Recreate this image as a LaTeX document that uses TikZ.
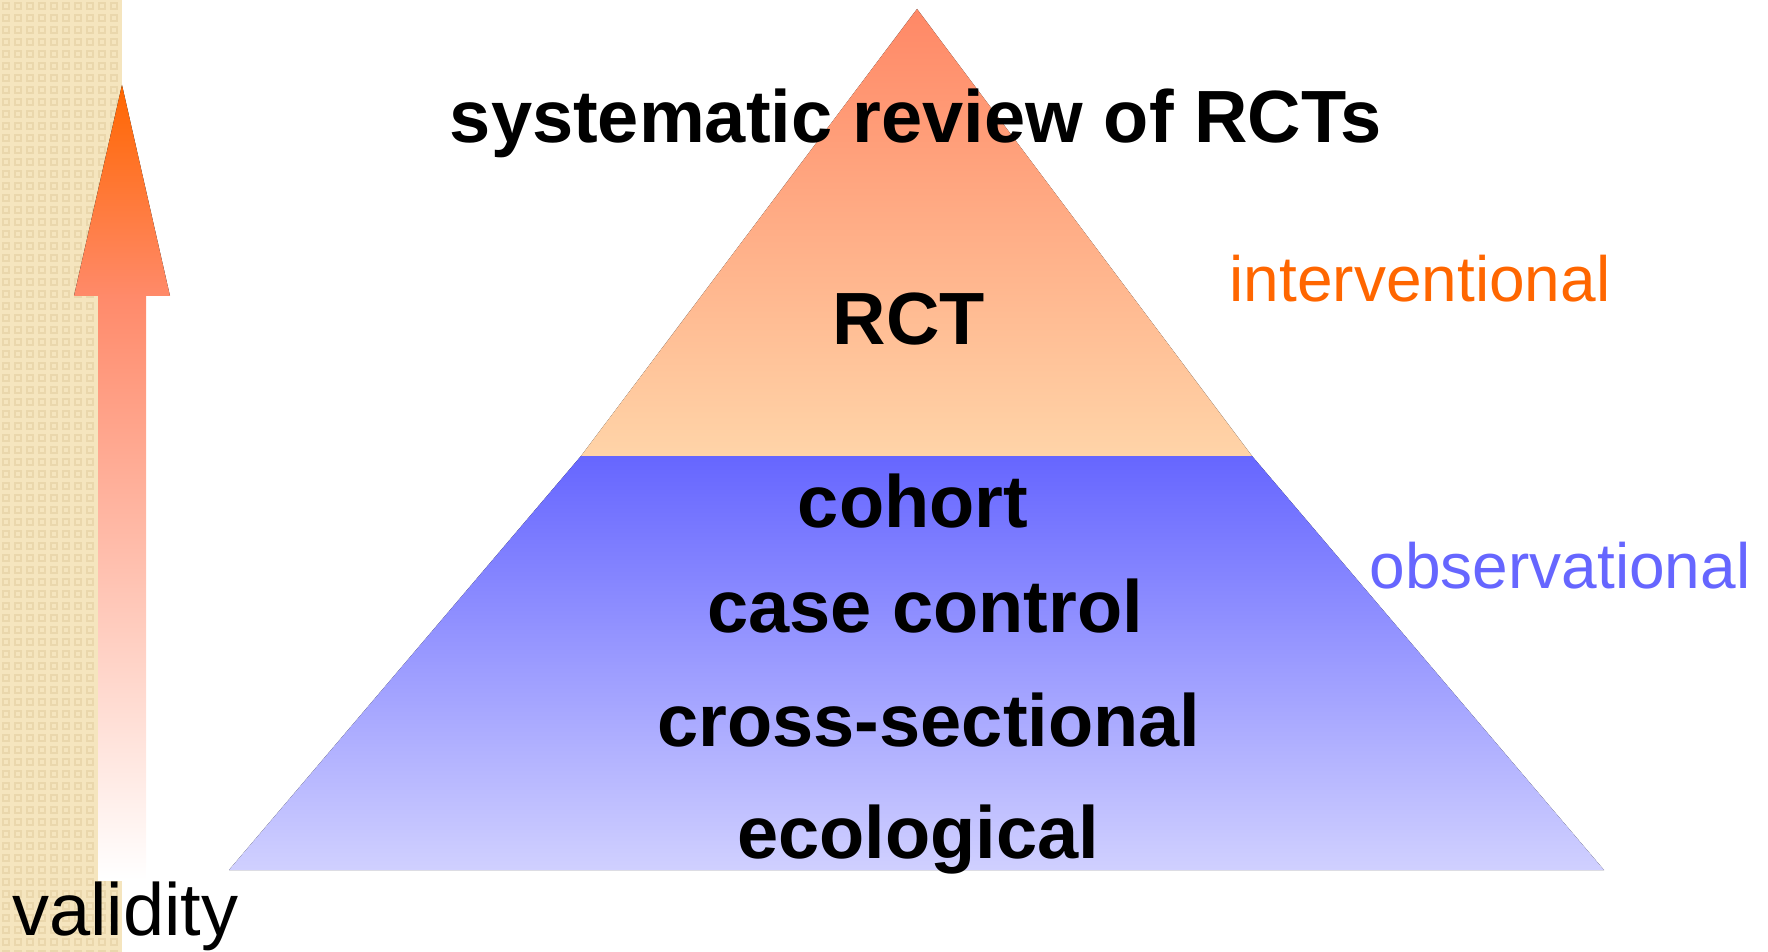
\documentclass[tikz,border=0pt]{standalone}
\usepackage{fontspec}
\setmainfont{Liberation Sans}
\usepackage{xcolor}
\usetikzlibrary{positioning}
\definecolor{stripbeige}{HTML}{F5E5BE}
\definecolor{stripdot}{HTML}{EAD7AC}
\definecolor{arroworange}{HTML}{FF6600}
\definecolor{arrowsalmon}{HTML}{FF8A6A}
\definecolor{topsalmon}{HTML}{FF8866}
\definecolor{toppeach}{HTML}{FFD4A8}
\definecolor{lowblue}{HTML}{6666FF}
\definecolor{lowlilac}{HTML}{D0D0FF}

\begin{document}
\begin{tikzpicture}[x=0.5pt, y=-0.5pt,
    level/.style={font=\fontsize{37}{44}\selectfont\bfseries, anchor=base, inner sep=0pt, text=black},
    side/.style={font=\fontsize{32}{38}\selectfont, anchor=base, inner sep=0pt}]
                        \useasboundingbox (0,0) rectangle (1768,952);
                        % textured strip on the left
                        \fill[stripbeige] (0,0) rectangle (122,952);
                        \foreach \i in {0,...,9}
                            \foreach \j in {0,...,79}
                                \draw[stripdot, line width=0.6pt] (\i*12+3,\j*12+3) rectangle +(6,6);
                        % validity arrow
                        \fill[top color=arroworange, bottom color=arrowsalmon] (122,85) -- (170,296) -- (74,296) -- cycle;
                        \fill[top color=arrowsalmon, bottom color=white] (98,296) rectangle (146,880);
                        % pyramid
                        \fill[top color=topsalmon, bottom color=toppeach] (917,9) -- (1252,456) -- (581,456) -- cycle;
                        \fill[top color=lowblue, bottom color=lowlilac] (581,456) -- (1252,456) -- (1604,870) -- (229,870) -- cycle;
                        % levels
                        \node[level] (srev) at (916,143) {systematic review of RCTs};
                        \node[level] (rct) at (909,345) {RCT};
                        \node[level] (cohort) at (913,527) {cohort};
                        \node[level] (casectl) at (925,632) {case control};
                        \node[level] (cross) at (929,746) {cross-sectional};
                        \node[level] (eco) at (918,858) {ecological};
                        \node[side, text=arroworange] (interv) at (1420,302) {interventional};
                        \node[side, text=lowblue] (obs) at (1560,588) {observational};
                        \node[font=\fontsize{37}{44}\selectfont, anchor=base west, inner sep=0pt] (valid) at (12,935) {validity};
                        \end{tikzpicture}
\end{document}
